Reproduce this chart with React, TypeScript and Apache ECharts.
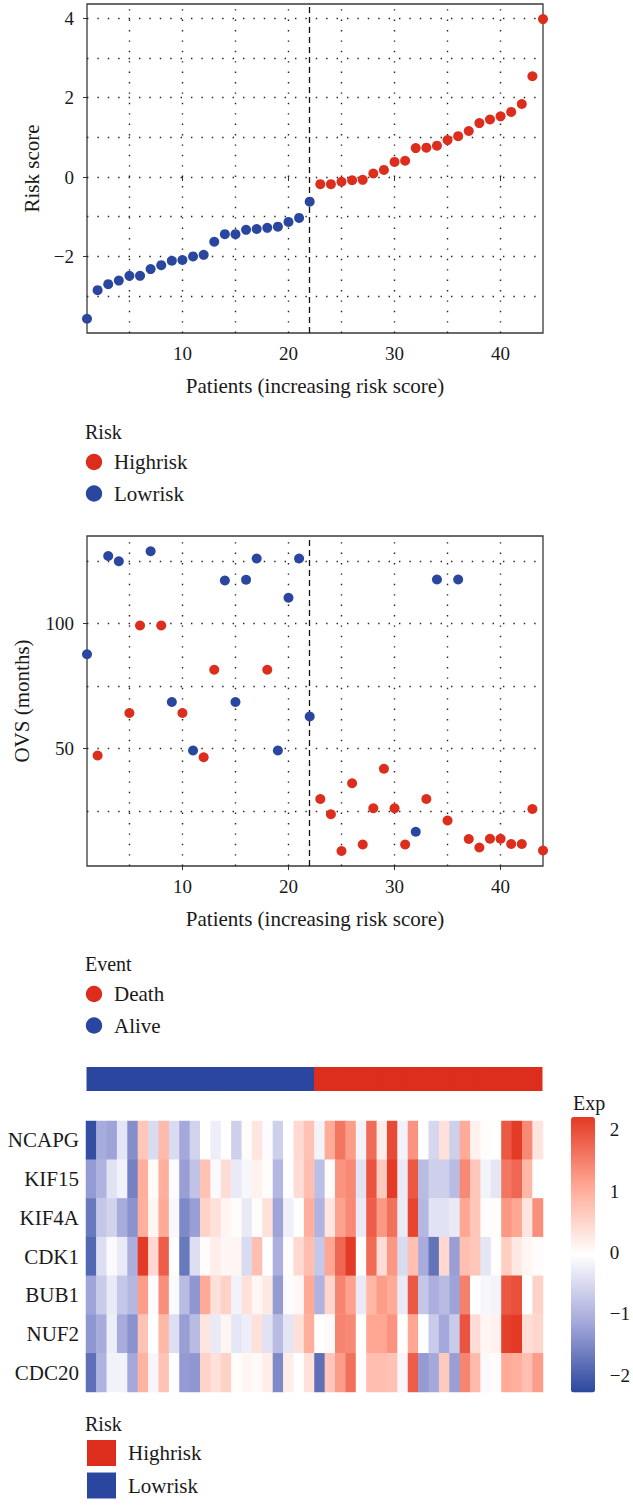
import React, { useEffect, useRef } from "react";
import * as echarts from "echarts";

// ---- data ----
const patients = Array.from({ length: 44 }, (_, i) => i + 1);
const cutoffPatient = 22;

const riskScore = [
  -3.57, -2.85, -2.7, -2.61, -2.49, -2.49, -2.32, -2.22, -2.11, -2.09, -2.0,
  -1.96, -1.63, -1.44, -1.44, -1.33, -1.31, -1.28, -1.25, -1.13, -1.03, -0.62,
  -0.18, -0.18, -0.12, -0.08, -0.07, 0.09, 0.18, 0.38, 0.41, 0.73, 0.74,
  0.79, 0.93, 1.03, 1.16, 1.36, 1.45, 1.53, 1.64, 1.84, 2.54, 3.98,
];

const ovsMonths = [
  87.7, 47.2, 127.0, 124.9, 64.2, 99.2, 128.9, 99.2, 68.6, 64.2, 49.2,
  46.5, 81.5, 117.2, 68.6, 117.5, 126.0, 81.5, 49.2, 110.3, 126.0, 62.8,
  29.8, 23.7, 9.0, 36.1, 11.6, 26.1, 41.9, 26.1, 11.6, 16.7, 29.8,
  117.6, 21.2, 117.6, 13.8, 10.4, 13.9, 13.9, 11.8, 11.8, 25.8, 9.2,
];

const eventStatus = [
  "Alive", "Death", "Alive", "Alive", "Death", "Death", "Alive", "Death", "Alive", "Death", "Alive",
  "Death", "Death", "Alive", "Alive", "Alive", "Alive", "Death", "Alive", "Alive", "Alive", "Alive",
  "Death", "Death", "Death", "Death", "Death", "Death", "Death", "Death", "Death", "Alive", "Death",
  "Alive", "Death", "Alive", "Death", "Death", "Death", "Death", "Death", "Death", "Death", "Death",
];

const genes = ["NCAPG", "KIF15", "KIF4A", "CDK1", "BUB1", "NUF2", "CDC20"];

const NCAPG = [
  -2.2, -1.1, -1.2, -0.35, -1.45, 0.7, -0.5, 0.85, -0.5, -1.15, -0.6,
  -0.03, -0.25, -0.03, -0.65, 0, 0.3, -0.07, -0.65, -0.03, 0.45, 0.75,
  -0.18, 1.05, 1.6, 1.2, -0.18, 1.7, 0.2, 2.05, -0.2, 1.3, -0.05,
  -0.55, 0.35, -0.65, 1.05, 0.15, 0, -0.05, 1.9, 2.2, 1.4, 0.3,
];
const KIF15 = [
  -1.3, -1.0, -0.4, -0.2, -1.6, 1.0, 0.02, 1.0, -0.07, -1.25, -0.8,
  0.75, -0.1, 0.4, -0.3, -0.15, 0.15, 0, -0.95, -0.03, 0.4, 0.8,
  -0.85, 0.02, 1.3, 1.4, -0.4, 1.95, 0.65, 2.2, -0.3, 1.9, -0.9,
  -0.65, -0.65, -0.9, 1.4, 0.7, -0.18, -0.35, 1.6, 1.75, 0.9, -0.02,
];
const KIF4A = [
  -1.7, -0.75, -0.6, -1.1, -1.4, 1.0, 0.08, 1.05, -0.12, -1.5, -1.25,
  0.55, 0.35, 0.1, 0, -0.3, 0, 0.35, -1.2, -0.22, -0.03, 1.0,
  -1.0, 0.3, 1.15, 1.4, -0.3, 1.85, 1.25, 1.65, -0.3, 2.1, -0.95,
  -0.4, -0.4, -0.3, 1.1, 0.7, 0, 0, 1.25, 1.1, 0.3, 1.35,
];
const CDK1 = [
  -1.9, -0.45, -0.1, -0.3, -1.05, 2.2, 0.45, 1.85, -0.02, -1.7, -0.45,
  0, 0.2, 0.07, 0.1, -0.5, 0.8, -0.03, -1.05, 0, 0.45, 0.8,
  -0.75, 1.1, 1.75, 2.2, 0, 1.7, 0.4, 1.25, -0.5, 0.78, -1.1,
  -1.75, 0.45, -1.25, 0.78, 0.7, -0.35, -0.05, 0.6, 0.25, 0.1, 0,
];
const BUB1 = [
  -1.2, -0.7, -0.3, -0.75, -0.95, 1.2, -0.07, 1.35, -0.1, -0.9, -1.35,
  1.05, 0.35, 0.55, -0.2, 0.35, 0.07, 0.25, -1.3, -0.07, 0.05, 1.05,
  -1.0, 0.5, 1.45, 1.15, -0.3, 0.9, 1.2, 1.05, -0.3, 1.9, -0.75,
  -1.05, -0.9, -1.2, 1.5, -0.05, -0.15, -0.18, 1.9, 2.0, -0.03, 0.55,
];
const NUF2 = [
  -1.35, -1.1, -0.25, -1.1, -1.4, 0.75, -0.03, 0.9, -0.45, -1.25, -0.9,
  0.3, -0.3, 0.1, -0.35, -0.25, 0.35, -0.4, -0.9, -0.35, 0.35, 1.0,
  -0.05, 0.03, 1.45, 1.4, -0.05, 1.1, 1.1, 1.3, -0.05, 1.1, -0.03,
  -0.7, -1.15, -0.7, 1.95, 0.4, 0.1, 0.15, 2.15, 2.3, 0.4, 0.5,
];
const CDC20 = [
  -1.8, -1.0, -0.2, -0.2, -1.15, 0.95, -0.15, 0.75, -0.02, -1.3, -1.35,
  0.55, 0.35, 0.55, 0, 0.1, 0.03, 0.2, -1.5, 0.2, -0.03, 0.35,
  -1.8, 0.7, 1.2, 1.65, -0.05, 0.8, 0.8, 0.75, -0.15, 1.85, -1.3,
  -1.15, 0.65, -1.25, 1.45, 0.85, -0.1, 0, 1.05, 1.0, 0.8, 1.2,
];
const expression = [NCAPG, KIF15, KIF4A, CDK1, BUB1, NUF2, CDC20];

// axis ticks and grid positions
const patientTicks = [10, 20, 30, 40];
const patientGrid = [5, 10, 15, 20, 25, 30, 35, 40];
const riskTicks = [-2, 0, 2, 4];
const riskGrid = [-3, -2, -1, 0, 1, 2, 3, 4];
const ovsTicks = [50, 100];
const ovsGrid = [25, 50, 75, 100, 125];
const expTicks = [-2, -1, 0, 1, 2];

// ---- styling ----
const RED = "#DC2D1D";
const BLUE = "#2B469E";
const INK = "#1a1a1a";
const FONT = "'Liberation Serif', 'Times New Roman', serif";
const minus = (v: number) => String(v).replace("-", "\u2212");

const riskGroup = patients.map((p) => (p <= cutoffPatient ? "Lowrisk" : "Highrisk"));

function scatterXAxis(gridIndex: number) {
  return {
    type: "value",
    gridIndex,
    min: 1,
    max: 44,
    axisLine: { show: false },
    splitLine: { show: false },
    axisTick: { show: true, customValues: patientTicks, length: 4, lineStyle: { color: "#333", width: 1 } },
    axisLabel: { customValues: patientTicks, fontSize: 19, margin: 11, color: INK, fontFamily: FONT },
    name: "Patients (increasing risk score)",
    nameLocation: "middle",
    nameGap: 42,
    nameTextStyle: { fontSize: 21, color: INK, fontFamily: FONT },
  };
}

function scatterYAxis(gridIndex: number, min: number, max: number, ticks: number[], name: string, gap: number) {
  return {
    type: "value",
    gridIndex,
    min,
    max,
    axisLine: { show: false },
    splitLine: { show: false },
    axisTick: { show: true, customValues: ticks, length: 4, lineStyle: { color: "#333", width: 1 } },
    axisLabel: { customValues: ticks, fontSize: 19, margin: 13, color: INK, fontFamily: FONT, formatter: minus },
    name,
    nameLocation: "middle",
    nameGap: gap,
    nameTextStyle: { fontSize: 21, color: INK, fontFamily: FONT },
  };
}

function guideLines(xs: number[], ys: number[]) {
  return {
    silent: true,
    symbol: ["none", "none"],
    z: 1,
    label: { show: false },
    lineStyle: { type: [1.4, 9], color: "#222", width: 1.4 },
    data: [
      ...xs.map((v) => ({ xAxis: v })),
      ...ys.map((v) => ({ yAxis: v })),
      { xAxis: cutoffPatient, lineStyle: { type: [6, 4], color: "#111", width: 1.3 } },
    ],
  };
}

function legendBlock(title: string, y: number, items: { label: string; color: string }[], shape: "circle" | "rect") {
  const els: any[] = [
    {
      type: "text",
      x: 85,
      y,
      style: { text: title, font: `20px ${FONT}`, fill: INK, align: "left", verticalAlign: "middle", textAlign: "left", textVerticalAlign: "middle" },
    },
  ];
  items.forEach((it, i) => {
    const cy = y + (shape === "circle" ? 30 + i * 31.5 : 29 + i * 32.5);
    if (shape === "circle") {
      els.push({ type: "circle", shape: { cx: 94, cy, r: 8.2 }, style: { fill: it.color } });
    } else {
      els.push({ type: "rect", shape: { x: 87, y: cy - 13, width: 29, height: 26 }, style: { fill: it.color } });
    }
    els.push({
      type: "text",
      x: shape === "circle" ? 114 : 128,
      y: cy,
      style: { text: it.label, font: `21px ${FONT}`, fill: INK, align: "left", verticalAlign: "middle", textAlign: "left", textVerticalAlign: "middle" },
    });
  });
  return els;
}

const heatData: number[][] = [];
expression.forEach((row, gi) => row.forEach((v, pi) => heatData.push([pi, gi, v])));

const pointStyle = (color: string) => ({ color, opacity: 1 });

const option: any = {
  animation: false,
  backgroundColor: "#fff",
  textStyle: { fontFamily: FONT },
  grid: [
    { left: 87, top: 4, width: 456, height: 329, show: true, borderColor: "#3a3a3a", borderWidth: 1.3, backgroundColor: "transparent" },
    { left: 87, top: 536, width: 456, height: 330, show: true, borderColor: "#3a3a3a", borderWidth: 1.3, backgroundColor: "transparent" },
    { left: 86.5, top: 1067, width: 456, height: 24 },
    { left: 86, top: 1121, width: 457, height: 271 },
    { left: 571, top: 1117, width: 24, height: 275.5 },
  ],
  xAxis: [
    scatterXAxis(0),
    scatterXAxis(1),
    { type: "category", gridIndex: 2, data: patients, show: false },
    { type: "category", gridIndex: 3, data: patients, show: false },
    { type: "value", gridIndex: 4, min: 0, max: 1, show: false },
  ],
  yAxis: [
    scatterYAxis(0, -3.93, 4.36, riskTicks, "Risk score", 45),
    scatterYAxis(1, 3.0, 135.0, ovsTicks, "OVS (months)", 55),
    { type: "value", gridIndex: 2, min: 0, max: 1, show: false },
    {
      type: "category",
      gridIndex: 3,
      data: genes,
      inverse: true,
      axisLine: { show: false },
      axisTick: { show: false },
      axisLabel: { fontSize: 21, margin: 7, color: INK, fontFamily: FONT },
    },
    {
      type: "value",
      gridIndex: 4,
      min: -2.28,
      max: 2.21,
      position: "right",
      axisLine: { show: false },
      splitLine: { show: false },
      axisTick: { show: true, customValues: expTicks, length: 6, lineStyle: { color: "#333", width: 1 } },
      axisLabel: { customValues: expTicks, fontSize: 19, margin: 16, color: INK, fontFamily: FONT, formatter: minus },
    },
  ],
  visualMap: {
    type: "continuous",
    seriesIndex: 5,
    min: -2.28,
    max: 2.21,
    calculable: false,
    orient: "vertical",
    left: 571,
    top: 1117,
    padding: 0,
    itemWidth: 24,
    itemHeight: 275.5,
    text: null,
    inRange: { color: ["#2B479E", "#A3A7DA", "#FFFFFF", "#FFA894", "#E43A25"] },
  },
  series: [
    {
      name: "Highrisk",
      type: "scatter",
      xAxisIndex: 0,
      yAxisIndex: 0,
      symbolSize: 10,
      clip: false,
      z: 3,
      itemStyle: pointStyle(RED),
      data: patients.filter((p) => riskGroup[p - 1] === "Highrisk").map((p) => [p, riskScore[p - 1]]),
      markLine: guideLines(patientGrid, riskGrid),
    },
    {
      name: "Lowrisk",
      type: "scatter",
      xAxisIndex: 0,
      yAxisIndex: 0,
      symbolSize: 10,
      clip: false,
      z: 3,
      itemStyle: pointStyle(BLUE),
      data: patients.filter((p) => riskGroup[p - 1] === "Lowrisk").map((p) => [p, riskScore[p - 1]]),
    },
    {
      name: "Death",
      type: "scatter",
      xAxisIndex: 1,
      yAxisIndex: 1,
      symbolSize: 10,
      clip: false,
      z: 3,
      itemStyle: pointStyle(RED),
      data: patients.filter((p) => eventStatus[p - 1] === "Death").map((p) => [p, ovsMonths[p - 1]]),
      markLine: guideLines(patientGrid, ovsGrid),
    },
    {
      name: "Alive",
      type: "scatter",
      xAxisIndex: 1,
      yAxisIndex: 1,
      symbolSize: 10,
      clip: false,
      z: 3,
      itemStyle: pointStyle(BLUE),
      data: patients.filter((p) => eventStatus[p - 1] === "Alive").map((p) => [p, ovsMonths[p - 1]]),
    },
    {
      name: "Risk",
      type: "bar",
      xAxisIndex: 2,
      yAxisIndex: 2,
      barWidth: 11.4,
      data: patients.map((p) => {
        const c = riskGroup[p - 1] === "Highrisk" ? RED : BLUE;
        return { value: 1, itemStyle: { color: c } };
      }),
    },
    {
      name: "Exp",
      type: "heatmap",
      xAxisIndex: 3,
      yAxisIndex: 3,
      data: heatData,
    },
  ],
  graphic: [
    ...legendBlock("Risk", 432, [
      { label: "Highrisk", color: RED },
      { label: "Lowrisk", color: BLUE },
    ], "circle"),
    ...legendBlock("Event", 964, [
      { label: "Death", color: RED },
      { label: "Alive", color: BLUE },
    ], "circle"),
    ...legendBlock("Risk", 1424, [
      { label: "Highrisk", color: RED },
      { label: "Lowrisk", color: BLUE },
    ], "rect"),
    {
      type: "text",
      x: 573,
      y: 1103,
      style: { text: "Exp", font: `20px ${FONT}`, fill: INK, align: "left", verticalAlign: "middle", textAlign: "left", textVerticalAlign: "middle" },
    },
  ],
};

export default function App() {
  const ref = useRef<HTMLDivElement>(null);
  useEffect(() => {
    if (!ref.current) return;
    const chart = echarts.init(ref.current, null, { renderer: "svg" });
    chart.setOption(option);
    return () => chart.dispose();
  }, []);
  return (
    <div
      ref={ref}
      style={{ position: "absolute", left: 0, top: 0, width: 633, height: 1512, background: "#fff" }}
    />
  );
}
